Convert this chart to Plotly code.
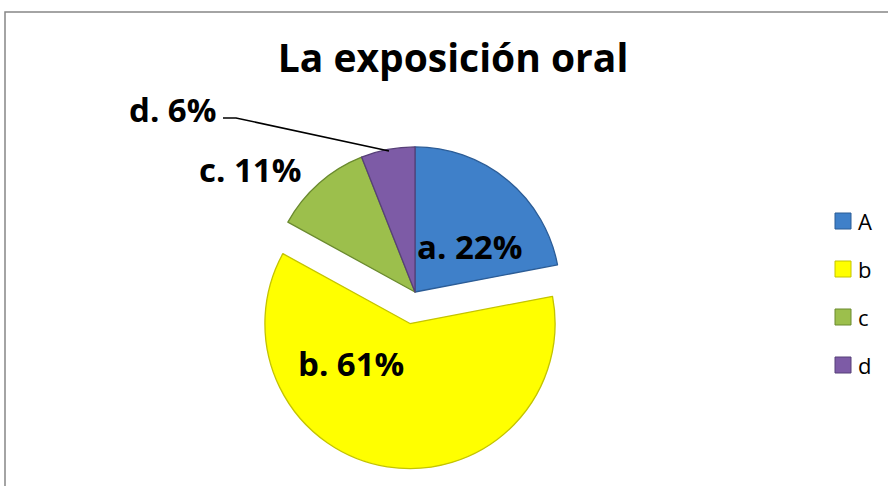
import plotly.graph_objects as go

W, H = 888, 486

# ---- data ----
categories = ["A", "b", "c", "d"]
label_prefix = ["a.", "b.", "c.", "d."]
values = [22, 61, 11, 6]
title_text = "La exposición oral"

colors = ["#3f80c9", "#ffff00", "#9cbf4c", "#7d5ba6"]
edge_colors = ["#2b5c96", "#c4c400", "#6a8a2e", "#574078"]
pulls = [0, 0.22, 0, 0]

def px_x(x):
    return x / W

def px_y(y):
    return 1 - y / H

fig = go.Figure()
fig.add_trace(go.Pie(
    labels=categories,
    values=values,
    sort=False,
    direction="clockwise",
    rotation=0,
    pull=pulls,
    marker=dict(colors=colors, line=dict(color=edge_colors, width=1.3)),
    textinfo="none",
    showlegend=False,
    domain=dict(x=[px_x(238), px_x(592)], y=[px_y(469), px_y(115)]),
))

# data labels (text built from data)
label_pos = [(469, 247), (351, 363), (250, 169), (172, 109)]
for pre, v, (x, y) in zip(label_prefix, values, label_pos):
    fig.add_annotation(
        x=px_x(x), y=px_y(y), xref="paper", yref="paper",
        text=f"<b>{pre} {v}%</b>", showarrow=False,
        font=dict(family="Open Sans", size=33, color="#000000"),
        xanchor="center", yanchor="middle",
    )

# leader line for the small slice label
fig.add_shape(
    type="path", xref="paper", yref="paper",
    path=f"M {px_x(223)},{px_y(118)} L {px_x(236)},{px_y(118)} L {px_x(389)},{px_y(151)}",
    line=dict(color="#000000", width=1.5),
)

# manual legend
leg_y = [221, 269, 317, 365]
for cat, col, ec, y in zip(categories, colors, edge_colors, leg_y):
    fig.add_shape(
        type="rect", xref="paper", yref="paper",
        x0=px_x(835), x1=px_x(851), y0=px_y(y + 8), y1=px_y(y - 8),
        fillcolor=col, line=dict(color=ec, width=1),
    )
    fig.add_annotation(
        x=px_x(856), y=px_y(y), xref="paper", yref="paper",
        text=cat, showarrow=False, xanchor="left", yanchor="middle",
        font=dict(family="Open Sans", size=22, color="#000000"),
    )

# chart border
fig.add_shape(
    type="rect", xref="paper", yref="paper",
    x0=px_x(5), x1=1.05, y0=-0.05, y1=px_y(12),
    line=dict(color="#878787", width=1.5), fillcolor="rgba(0,0,0,0)",
)

fig.update_layout(
    width=W, height=H,
    margin=dict(l=0, r=0, t=0, b=0),
    paper_bgcolor="white", plot_bgcolor="white",
    title=dict(
        text=f"<b>{title_text}</b>", x=px_x(453), y=px_y(58),
        xref="paper", yref="container", xanchor="center", yanchor="middle",
        font=dict(family="Open Sans", size=39, color="#000000"),
    ),
    showlegend=False,
)

fig.write_html(
    "out.html",
    config={"displayModeBar": False},
    post_script="document.body.style.margin='0px';",
)
